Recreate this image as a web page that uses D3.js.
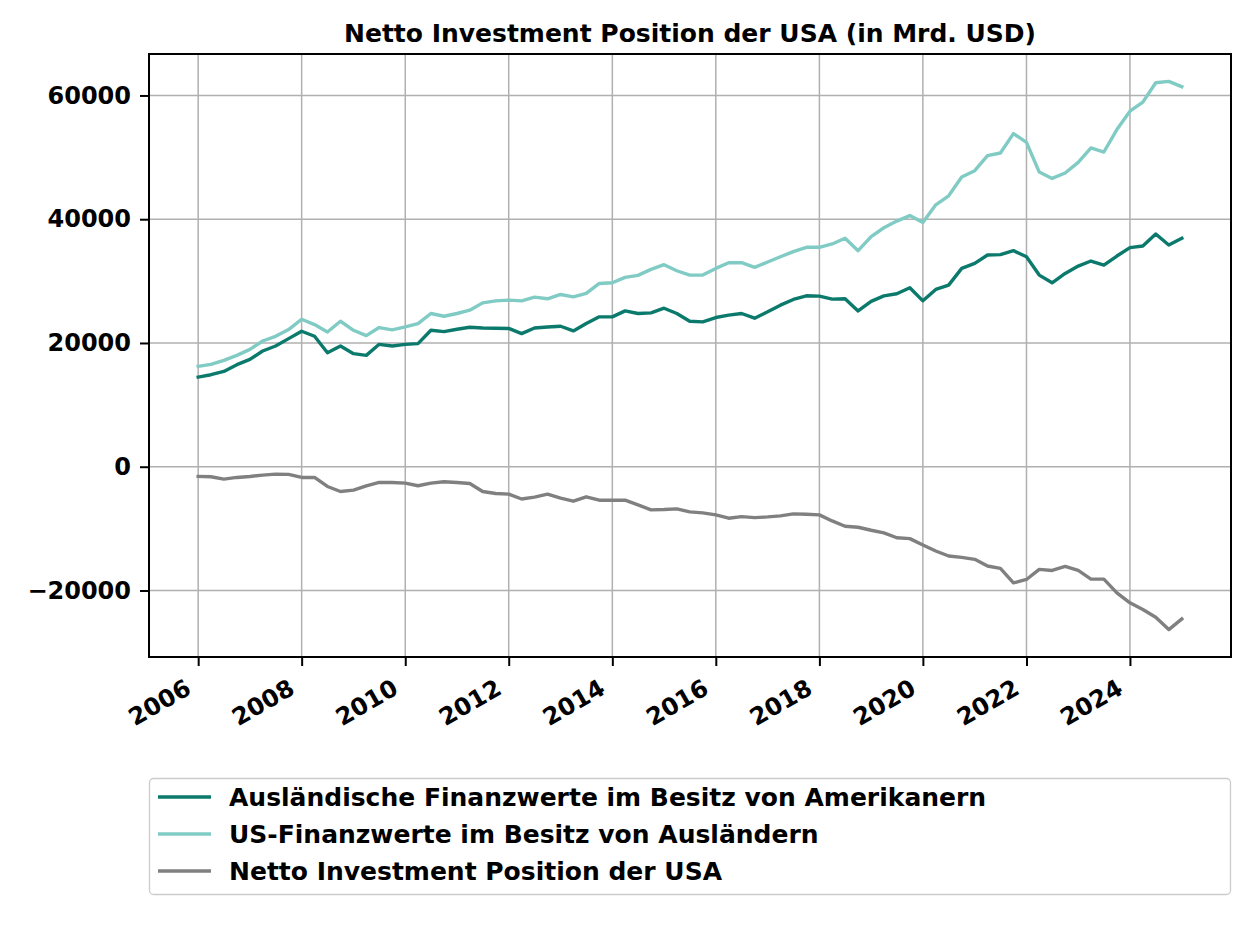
<!DOCTYPE html>
<meta charset="utf-8">
<html>
<script src="https://cdn.jsdelivr.net/npm/d3@7"></script>
<style>
  body { margin: 0; background: #fff; }
  text { font-family: "DejaVu Sans", sans-serif; font-weight: bold; }
</style>
<div id="chart"></div>
<script>

// quarterly values, Q1 2006 .. Q1 2025 (Mrd. USD)
var auslaendische = [14480, 14870, 15400, 16490, 17350, 18700, 19510, 20700, 21890, 21080,
  18430, 19510, 18270, 18000, 19780, 19510, 19780, 19890, 22050, 21840,
  22210, 22540, 22430, 22380, 22350, 21510, 22430, 22590, 22700, 21950,
  23140, 24220, 24220, 25190, 24760, 24870, 25620, 24760, 23510, 23410,
  24110, 24490, 24760, 24000, 25030, 26110, 27030, 27620, 27570, 27080,
  27140, 25170, 26730, 27620, 27950, 28920, 26810, 28650, 29350, 32050,
  32870, 34220, 34270, 34920, 33940, 30970, 29730, 31240, 32430, 33240,
  32590, 34050, 35400, 35680, 37620, 35840, 36920];

var usFinanzwerte = [16220, 16540, 17190, 18000, 18970, 20320, 21080, 22160, 23840, 22970,
  21780, 23510, 22050, 21190, 22490, 22110, 22590, 23140, 24760, 24320,
  24760, 25300, 26480, 26810, 26920, 26810, 27400, 27140, 27840, 27460,
  28000, 29620, 29730, 30600, 30920, 31890, 32650, 31670, 30970, 30970,
  32050, 32970, 32970, 32220, 33080, 33940, 34750, 35460, 35460, 36000,
  36920, 34920, 37190, 38620, 39700, 40590, 39460, 42320, 43780, 46810,
  47840, 50270, 50700, 53840, 52430, 47620, 46590, 47460, 49190, 51510,
  50860, 54490, 57460, 58920, 62050, 62270, 61410];

var netto = [-1570, -1620, -2000, -1730, -1570, -1350, -1190, -1240, -1730, -1730,
  -3190, -4000, -3780, -3080, -2540, -2540, -2650, -3080, -2650, -2430,
  -2540, -2700, -4000, -4320, -4430, -5220, -4920, -4430, -5080, -5570,
  -4860, -5410, -5410, -5410, -6160, -6970, -6920, -6810, -7300, -7460,
  -7780, -8320, -8060, -8220, -8110, -7950, -7620, -7680, -7780, -8760,
  -9620, -9780, -10270, -10680, -11480, -11620, -12650, -13620, -14430, -14650,
  -14970, -16050, -16430, -18760, -18220, -16590, -16760, -16110, -16760, -18160,
  -18160, -20380, -22000, -23080, -24320, -26320, -24600];

var seriesNames = ["Ausländische Finanzwerte im Besitz von Amerikanern",
  "US-Finanzwerte im Besitz von Ausländern",
  "Netto Investment Position der USA"];
var seriesColors = ["#0b7a6c", "#80cbc4", "#808080"];

var xTickYears = [2006, 2008, 2010, 2012, 2014, 2016, 2018, 2020, 2022, 2024];
var yTicks = [-20000, 0, 20000, 40000, 60000];

var dates = d3.range(netto.length).map(function(i) { return new Date(2006, i * 3, 1); });
var allSeries = [auslaendische, usFinanzwerte, netto];

var width = 1254,
    height = 940,
    plotL = 149, plotR = 1231, plotT = 54, plotB = 657;

var svg = d3.select("#chart").append("svg")
    .attr("width", width)
    .attr("height", height)
    .style("background", "#fff");

// matplotlib style 5% margins
var t0 = dates[0].getTime(), t1 = dates[dates.length - 1].getTime();
var tpad = (t1 - t0) * 0.05;
var x = d3.scaleTime()
    .domain([new Date(t0 - tpad), new Date(t1 + tpad)])
    .range([plotL, plotR]);

var vmin = d3.min(allSeries, function(s) { return d3.min(s); });
var vmax = d3.max(allSeries, function(s) { return d3.max(s); });
var vpad = (vmax - vmin) * 0.05;
var y = d3.scaleLinear()
    .domain([vmin - vpad, vmax + vpad])
    .range([plotB, plotT]);

var xTickDates = xTickYears.map(function(yr) { return new Date(yr, 0, 1); });

// grid
var grid = svg.append("g");
grid.selectAll("line.gx")
  .data(xTickDates)
  .enter().append("line")
    .attr("x1", function(d) { return x(d); })
    .attr("x2", function(d) { return x(d); })
    .attr("y1", plotT).attr("y2", plotB)
    .attr("stroke", "#b0b0b0").attr("stroke-width", 1.5);
grid.selectAll("line.gy")
  .data(yTicks)
  .enter().append("line")
    .attr("x1", plotL).attr("x2", plotR)
    .attr("y1", function(d) { return y(d); })
    .attr("y2", function(d) { return y(d); })
    .attr("stroke", "#b0b0b0").attr("stroke-width", 1.5);

// lines
var line = d3.line()
    .x(function(d, i) { return x(dates[i]); })
    .y(function(d) { return y(d); });

svg.selectAll("path.series")
  .data(allSeries)
  .enter().append("path")
    .attr("class", "series")
    .attr("d", line)
    .attr("fill", "none")
    .attr("stroke", function(d, i) { return seriesColors[i]; })
    .attr("stroke-width", 3.4)
    .attr("stroke-linejoin", "round")
    .attr("stroke-linecap", "square");

// axes
var yAxis = svg.append("g")
    .attr("transform", "translate(" + plotL + ",0)")
    .call(d3.axisLeft(y).tickValues(yTicks).tickSize(9).tickPadding(9).tickFormat(d3.format("d")));
yAxis.select(".domain").remove();
yAxis.selectAll(".tick line").attr("stroke", "#000").attr("stroke-width", 2);
yAxis.selectAll(".tick text").attr("font-size", "24px").attr("fill", "#000");

var xAxis = svg.append("g")
    .attr("transform", "translate(0," + plotB + ")")
    .call(d3.axisBottom(x).tickValues(xTickDates).tickSize(9).tickFormat(d3.timeFormat("%Y")));
xAxis.select(".domain").remove();
xAxis.selectAll(".tick line").attr("stroke", "#000").attr("stroke-width", 2);
xAxis.selectAll(".tick text")
    .attr("font-size", "24px")
    .attr("fill", "#000")
    .attr("text-anchor", "end")
    .attr("dy", null)
    .attr("y", 0)
    .attr("transform", "translate(-6,36) rotate(-30)");

// frame
svg.append("rect")
    .attr("x", plotL).attr("y", plotT)
    .attr("width", plotR - plotL).attr("height", plotB - plotT)
    .attr("fill", "none")
    .attr("stroke", "#000")
    .attr("stroke-width", 2);

// title
svg.append("text")
    .attr("x", (plotL + plotR) / 2)
    .attr("y", 42)
    .attr("text-anchor", "middle")
    .attr("font-size", "25px")
    .text("Netto Investment Position der USA (in Mrd. USD)");

// legend
var lg = svg.append("g");
lg.append("rect")
    .attr("x", 149.5).attr("y", 778.5)
    .attr("width", 1081).attr("height", 116)
    .attr("rx", 4)
    .attr("fill", "#fff")
    .attr("stroke", "#cccccc")
    .attr("stroke-width", 1.3);

var item = lg.selectAll("g.item")
  .data(seriesNames)
  .enter().append("g")
    .attr("class", "item")
    .attr("transform", function(d, i) { return "translate(0," + (797 + i * 37) + ")"; });
item.append("line")
    .attr("x1", 158).attr("x2", 211)
    .attr("stroke", function(d, i) { return seriesColors[i]; })
    .attr("stroke-width", 3.6);
item.append("text")
    .attr("x", 229)
    .attr("dy", "0.35em")
    .attr("font-size", "25px")
    .text(function(d) { return d; });
</script>
</html>
